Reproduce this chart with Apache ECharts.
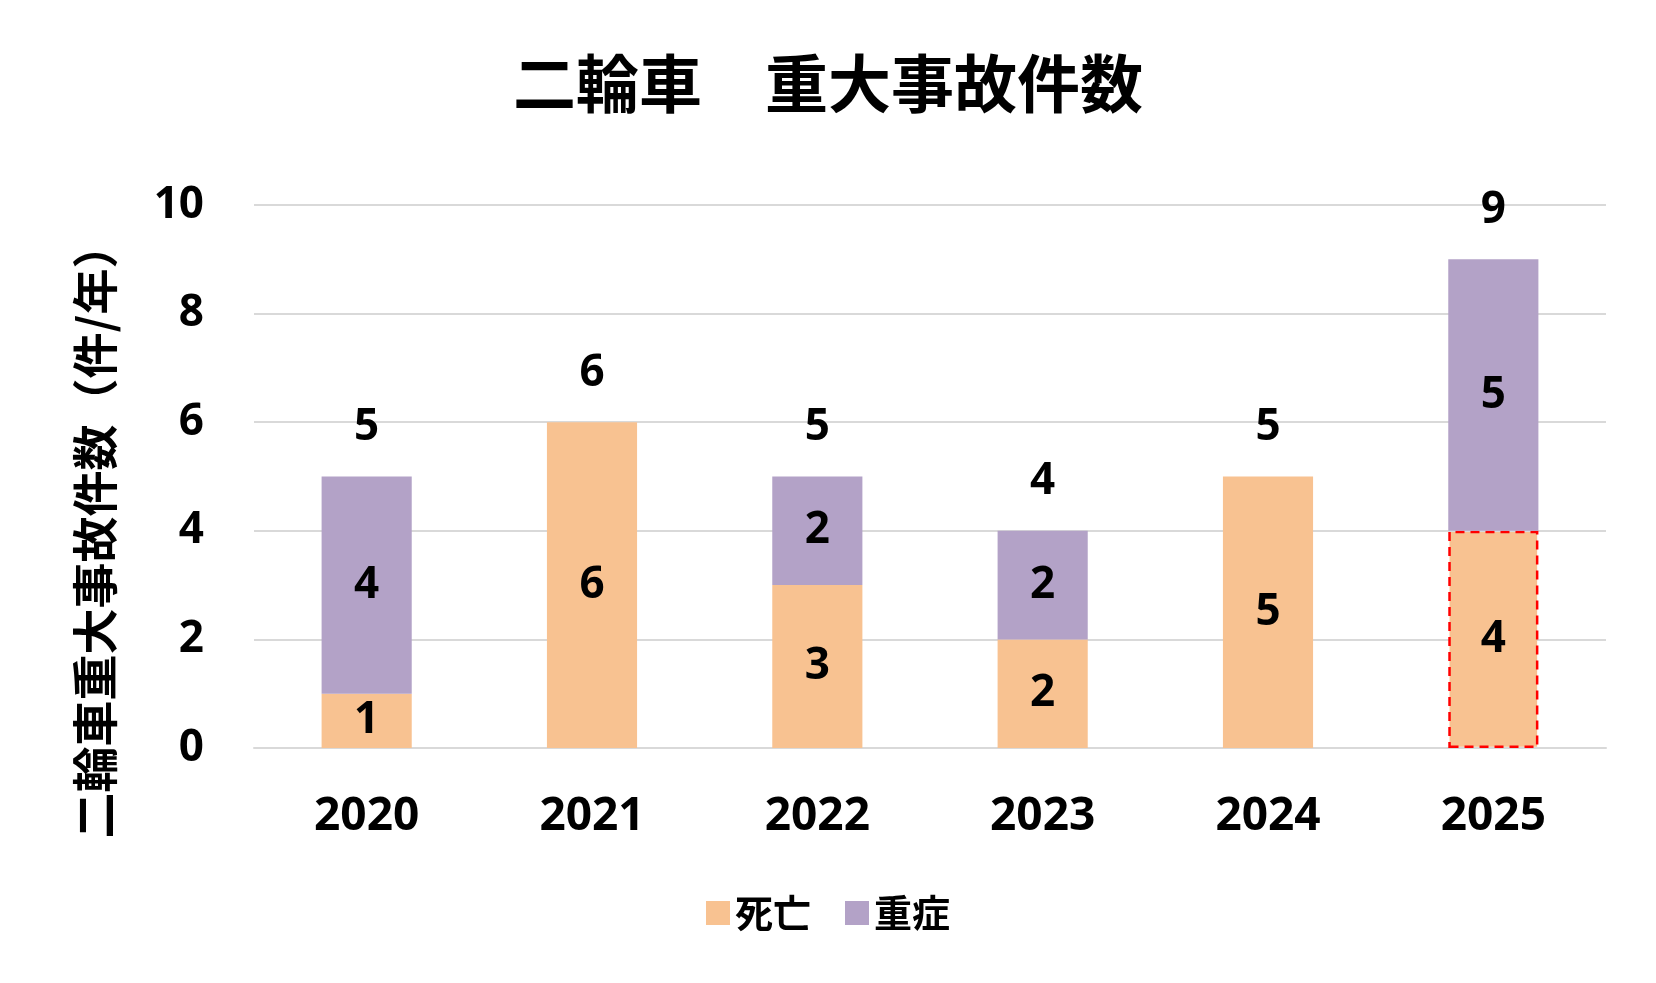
<!DOCTYPE html>
<html>
<head>
<meta charset="utf-8">
<style>
    html, body { margin: 0; padding: 0; background: #fff; }
    #chart { width: 1656px; height: 983px; }
</style>
<script src="https://cdn.jsdelivr.net/npm/echarts@6/dist/echarts.min.js"></script>
</head>
<body>
<div id="chart"></div>
<script>
// 年度と件数
const years = ['2020', '2021', '2022', '2023', '2024', '2025']
const deaths = [1, 6, 3, 2, 5, 4]
const severe = [4, 0, 2, 2, 0, 5]
const totals = [5, 6, 5, 4, 5, 9]
const yTicks = [0, 2, 4, 6, 8, 10]

const fontFamily = '"Open Sans", "Noto Sans CJK JP", sans-serif'
const cjkFont = '"Noto Sans CJK JP", sans-serif'

;(function () {
    const myChart = echarts.init(document.getElementById('chart'))
    const hideZero = function (p) {
        return p.value ? p.value : ''
    }
    const numLabel = {
        fontSize: 44,
        fontWeight: 'bold',
        color: '#000',
        fontFamily: fontFamily
    }
    const option = {
        backgroundColor: '#fff',
        textStyle: { fontFamily: fontFamily },
        title: {
            text: '二輪車　重大事故件数',
            left: 'center',
            top: 47,
            textStyle: {
                fontFamily: cjkFont,
                fontSize: 63,
                fontWeight: 'bold',
                color: '#000'
            }
        },
        legend: {
            data: ['死亡', '重症'],
            left: 'center',
            top: 889,
            itemWidth: 24,
            itemHeight: 24,
            itemGap: 34,
            icon: 'rect',
            textStyle: {
                fontFamily: cjkFont,
                fontSize: 38,
                fontWeight: 'bold',
                color: '#000'
            }
        },
        grid: {
            left: 254,
            right: 50,
            top: 205,
            bottom: 235
        },
        xAxis: {
            type: 'category',
            data: years,
            axisLine: { lineStyle: { color: '#d9d9d9', width: 2 } },
            axisTick: { show: false },
            axisLabel: Object.assign({ margin: 46 }, numLabel, { fontSize: 46 })
        },
        yAxis: {
            type: 'value',
            min: yTicks[0],
            max: yTicks[yTicks.length - 1],
            interval: 2,
            name: '二輪車重大事故件数（件/年）',
            nameLocation: 'middle',
            nameGap: 136,
            nameTextStyle: {
                fontFamily: cjkFont,
                fontSize: 46,
                fontWeight: 'bold',
                color: '#000',
                padding: [0, 108, 0, 0]
            },
            axisLine: { show: false },
            axisTick: { show: false },
            splitLine: { lineStyle: { color: '#d9d9d9', width: 2 } },
            axisLabel: Object.assign({ margin: 50 }, numLabel)
        },
        series: [
            {
                name: '死亡',
                type: 'bar',
                stack: 'total',
                barWidth: '40%',
                itemStyle: { color: '#F8C291' },
                label: Object.assign({ show: true, position: 'inside', formatter: hideZero }, numLabel),
                data: deaths.map(function (v, i) {
                    // 2025年は速報値のため赤い破線枠
                    if (i === deaths.length - 1) {
                        return {
                            value: v,
                            itemStyle: {
                                borderColor: '#ff0000',
                                borderWidth: 2.5,
                                borderType: [9, 6]
                            }
                        }
                    }
                    return v
                })
            },
            {
                name: '重症',
                type: 'bar',
                stack: 'total',
                barWidth: '40%',
                itemStyle: { color: '#B3A2C7' },
                label: Object.assign({ show: true, position: 'inside', formatter: hideZero }, numLabel),
                data: severe
            },
            {
                // 合計ラベル用（点は透明）
                name: '合計',
                type: 'scatter',
                symbolSize: 2,
                itemStyle: { color: 'rgba(0,0,0,0)', opacity: 1 },
                silent: true,
                z: 10,
                label: Object.assign({ show: true, position: 'top', distance: 26 }, numLabel),
                data: totals
            }
        ]
    }
    myChart.setOption(option)
})()
</script>
</body>
</html>
